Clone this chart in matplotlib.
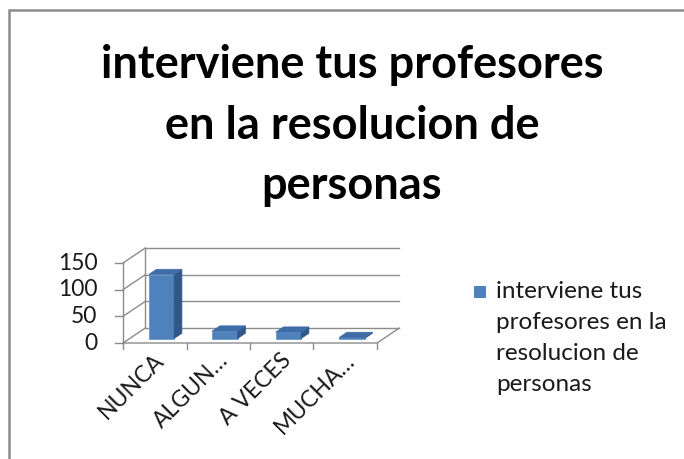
import matplotlib
matplotlib.use("Agg")
from matplotlib import pyplot as plt
from matplotlib.patches import Polygon, Rectangle

# Datos del grafico
categorias = ["NUNCA", "ALGUN…", "A VECES", "MUCHA…"]
valores = [120, 14, 12, 2]
ticks_y = [0, 50, 100, 150]
titulo = "interviene tus profesores\nen la resolucion de\npersonas"
serie = "interviene tus\nprofesores en la\nresolucion de\npersonas"

W, H = 684, 459
FONT = "Lato"

# Colores
AZUL = "#4F81BD"
AZUL_TOP = "#3E6CA6"
AZUL_LADO = "#2F5788"
GRIS = "#8C8C8C"
TEXTO = "#1A1A1A"

# profundidad oblicua (en unidades de datos)
DX, DY = 0.35, 28
Z0, Z1 = 0.3, 0.65
ANCHO = 0.4

fig = plt.figure(figsize=(W / 100, H / 100), dpi=100)

# marco del area del grafico
fig.patches.append(Rectangle((9 / W, -0.1), 1.2, 1 - 10 / H + 0.1,
                             transform=fig.transFigure, fill=False,
                             edgecolor=GRIS, linewidth=1.8))

# ejes: x=0 -> px 123, x=4 -> px 377 ; y=0 -> px 343, y=150 -> px 263
px_x = 63.5
px_y = 80 / 150
left_px, right_px, top_px, bot_px = 100, 420, 230, 360
ax = fig.add_axes([left_px / W, 1 - bot_px / H,
                   (right_px - left_px) / W, (bot_px - top_px) / H])
ax.set_xlim((left_px - 123) / px_x, (right_px - 123) / px_x)
ax.set_ylim((343 - bot_px) / px_y, (343 - top_px) / px_y)
ax.axis("off")

n = len(categorias)
ymax = ticks_y[-1]
lw = 1.0

# pared del fondo y pared lateral
for t in ticks_y:
    ax.plot([DX, n + DX], [t + DY, t + DY], color=GRIS, lw=lw, clip_on=False)
    ax.plot([0, DX], [t, t + DY], color=GRIS, lw=lw, clip_on=False)
ax.plot([DX, DX], [DY, ymax + DY], color=GRIS, lw=lw)
# piso
ax.plot([0, n, n + DX], [0, 0, DY], color=GRIS, lw=lw)
# eje vertical frontal
ax.plot([0, 0], [0, ymax], color=GRIS, lw=lw)
for t in ticks_y:
    ax.plot([-0.12, 0], [t, t], color=GRIS, lw=lw, clip_on=False)
    ax.text(-0.4, t, str(t), ha="right", va="center", fontsize=16.5,
            family=FONT, color=TEXTO)
# marcas del eje x
for i in range(n + 1):
    ax.plot([i, i], [0, -12], color=GRIS, lw=lw, clip_on=False)

# barras pseudo 3D
xs = [i + 0.5 - ANCHO / 2 + Z0 * DX for i in range(n)]
base = Z0 * DY
ax.bar(xs, valores, width=ANCHO, bottom=base, align="edge",
       color=AZUL, edgecolor="#6E97C8", linewidth=0.6, zorder=3)
d = Z1 - Z0
for x0, v in zip(xs, valores):
    top = base + v
    lado = [(x0 + ANCHO, base), (x0 + ANCHO + d * DX, base + d * DY),
            (x0 + ANCHO + d * DX, top + d * DY), (x0 + ANCHO, top)]
    techo = [(x0, top), (x0 + ANCHO, top),
             (x0 + ANCHO + d * DX, top + d * DY), (x0 + d * DX, top + d * DY)]
    ax.add_patch(Polygon(lado, closed=True, facecolor=AZUL_LADO,
                         edgecolor=AZUL_LADO, lw=0.5, zorder=3))
    ax.add_patch(Polygon(techo, closed=True, facecolor=AZUL_TOP,
                         edgecolor=AZUL_TOP, lw=0.5, zorder=3))

# etiquetas de categoria
for i, c in enumerate(categorias):
    ax.text(i + 0.48, -13, c, rotation=45, rotation_mode="anchor",
            ha="right", va="top", fontsize=16.5, family=FONT, color=TEXTO)

# titulo
fig.text(352 / W, 1 - 44 / H, titulo, ha="center", va="top", fontsize=32.5,
         fontweight="bold", family=FONT, linespacing=1.55, color="black")

# leyenda
fig.patches.append(Rectangle((474 / W, 1 - 298 / H), 12 / W, 12 / H,
                             transform=fig.transFigure, facecolor=AZUL,
                             edgecolor="none"))
fig.text(496 / W, 1 - 281 / H, serie, ha="left", va="top", fontsize=17.5,
         family=FONT, linespacing=1.58, color=TEXTO)

fig.savefig("out.png", dpi=100)
